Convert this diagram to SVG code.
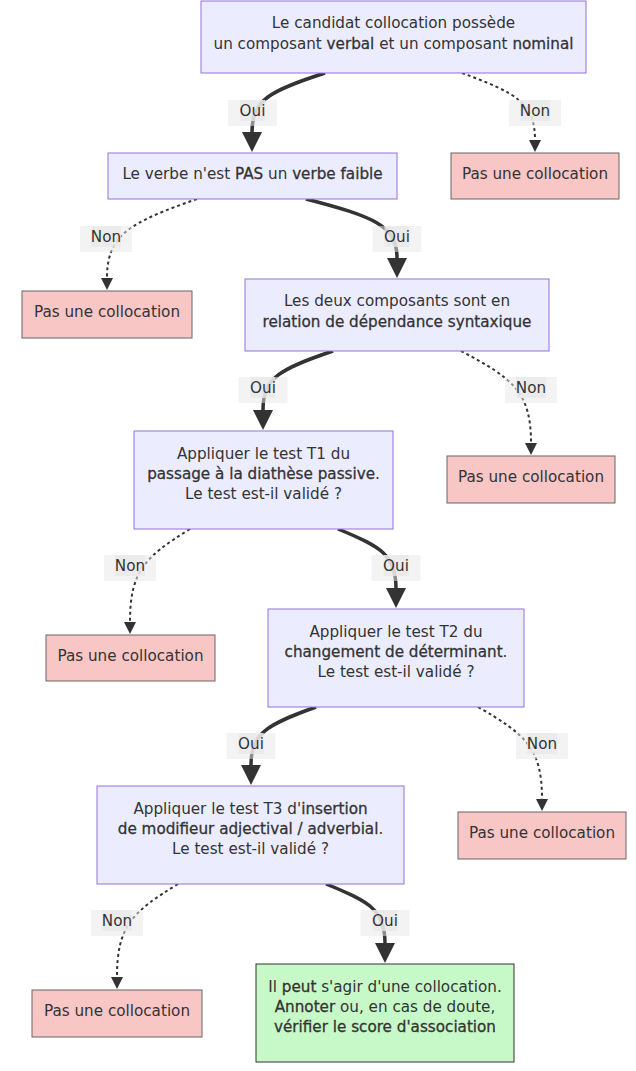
<svg xmlns="http://www.w3.org/2000/svg" width="636" height="1071" viewBox="0 0 636 1071">
<style>
text{font-family:"DejaVu Sans","Liberation Sans",sans-serif;font-size:15.2px;fill:#333;text-anchor:middle}
.b{stroke:#333;stroke-width:0.3px}
.q{fill:#ECECFF;stroke:#9370DB;stroke-width:1}
.n{fill:#F9C6C6;stroke:#666;stroke-width:1}
.y{fill:#C7F8C7;stroke:#333;stroke-width:1}
.oui{fill:none;stroke:#333;stroke-width:3.5}
.non{fill:none;stroke:#333;stroke-width:2;stroke-dasharray:3 3}
.lo{fill:#e8e8e8;opacity:0.5}
.li{fill:#e8e8e8;opacity:0.8}
</style>
<defs>
<marker id="ah" markerUnits="userSpaceOnUse" markerWidth="21" markerHeight="21" refX="0" refY="10" orient="auto"><path d="M0,0 L20,10 L0,20 z" fill="#333"/></marker>
<marker id="as" markerUnits="userSpaceOnUse" markerWidth="13" markerHeight="13" refX="0" refY="6" orient="auto"><path d="M0,0 L12,6 L0,12 z" fill="#333"/></marker>
</defs>
<rect width="636" height="1071" fill="#fff"/>
<g id="connectors">
<path class="oui" marker-end="url(#ah)" d="M325,73 C270.25,90.7 252,99.6 252,132"/>
<path class="non" marker-end="url(#as)" d="M462,73 C516.75,93.1 535,103.2 535,140"/>
<path class="non" marker-end="url(#as)" d="M197,199 C129.5,222.7 107,234.6 107,278"/>
<path class="oui" marker-end="url(#ah)" d="M306,199 C374.25,216.7 397,225.6 397,258"/>
<path class="oui" marker-end="url(#ah)" d="M333,351 C280.5,368.7 263,377.6 263,410"/>
<path class="non" marker-end="url(#as)" d="M461,351 C513.5,378.6 531,392.4 531,443"/>
<path class="non" marker-end="url(#as)" d="M190,529 C145,556.9 130,570.9 130,622"/>
<path class="oui" marker-end="url(#ah)" d="M338,529 C381.5,546.7 396,555.6 396,588"/>
<path class="oui" marker-end="url(#ah)" d="M316,707 C267.25,724.4 251,733.1 251,765"/>
<path class="non" marker-end="url(#as)" d="M478,707 C526,734.6 542,748.4 542,799"/>
<path class="non" marker-end="url(#as)" d="M178,884 C132.25,911.9 117,925.9 117,977"/>
<path class="oui" marker-end="url(#ah)" d="M326,884 C370.25,901.7 385,910.6 385,943"/>
<g id="edge-labels">
<g><rect class="lo" x="228" y="100" width="49" height="26"/><rect class="li" x="240" y="100" width="25" height="21"/><text x="252.5" y="116">Oui</text></g>
<g><rect class="lo" x="509" y="100" width="52" height="26"/><rect class="li" x="520" y="100" width="30" height="21"/><text x="535" y="116">Non</text></g>
<g><rect class="lo" x="80" y="226" width="52" height="26"/><rect class="li" x="91" y="226" width="30" height="21"/><text x="106" y="242">Non</text></g>
<g><rect class="lo" x="372.5" y="226" width="49" height="26"/><rect class="li" x="384.5" y="226" width="25" height="21"/><text x="397" y="242">Oui</text></g>
<g><rect class="lo" x="238.5" y="377" width="49" height="26"/><rect class="li" x="250.5" y="377" width="25" height="21"/><text x="263" y="393">Oui</text></g>
<g><rect class="lo" x="505" y="377" width="52" height="26"/><rect class="li" x="516" y="377" width="30" height="21"/><text x="531" y="393">Non</text></g>
<g><rect class="lo" x="104" y="555" width="52" height="26"/><rect class="li" x="115" y="555" width="30" height="21"/><text x="130" y="571">Non</text></g>
<g><rect class="lo" x="371.5" y="555" width="49" height="26"/><rect class="li" x="383.5" y="555" width="25" height="21"/><text x="396" y="571">Oui</text></g>
<g><rect class="lo" x="226.5" y="733" width="49" height="26"/><rect class="li" x="238.5" y="733" width="25" height="21"/><text x="251" y="749">Oui</text></g>
<g><rect class="lo" x="516" y="733" width="52" height="26"/><rect class="li" x="527" y="733" width="30" height="21"/><text x="542" y="749">Non</text></g>
<g><rect class="lo" x="91" y="910" width="52" height="26"/><rect class="li" x="102" y="910" width="30" height="21"/><text x="117" y="926">Non</text></g>
<g><rect class="lo" x="360.5" y="910" width="49" height="26"/><rect class="li" x="372.5" y="910" width="25" height="21"/><text x="385" y="926">Oui</text></g>
</g>
</g>
<g id="n1"><rect class="q" x="201" y="1" width="385" height="72"/><text x="393.5" y="28">Le candidat collocation possède</text><text x="393.5" y="49">un composant <tspan class="b">verbal</tspan> et un composant <tspan class="b">nominal</tspan></text></g>
<g id="n2"><rect class="q" x="108" y="153" width="289" height="46"/><text x="252.5" y="179">Le verbe n'est <tspan class="b">PAS</tspan> un <tspan class="b">verbe faible</tspan></text></g>
<g id="n3"><rect class="n" x="451" y="153" width="168" height="46"/><text x="535" y="179">Pas une collocation</text></g>
<g id="n4"><rect class="n" x="22" y="291" width="170" height="47"/><text x="107" y="317">Pas une collocation</text></g>
<g id="n5"><rect class="q" x="245" y="279" width="304" height="72"/><text x="397" y="306">Les deux composants sont en</text><text x="397" y="327"><tspan class="b">relation de dépendance syntaxique</tspan></text></g>
<g id="n6"><rect class="n" x="447" y="456" width="168" height="47"/><text x="531" y="482">Pas une collocation</text></g>
<g id="n7"><rect class="q" x="134" y="431" width="259" height="98"/><text x="263.5" y="459">Appliquer le test T1 du</text><text x="263.5" y="479"><tspan class="b">passage à la diathèse passive</tspan>.</text><text x="263.5" y="499">Le test est-il validé ?</text></g>
<g id="n8"><rect class="n" x="46" y="635" width="169" height="46"/><text x="130.5" y="661">Pas une collocation</text></g>
<g id="n9"><rect class="q" x="268" y="609" width="256" height="98"/><text x="396" y="637">Appliquer le test T2 du</text><text x="396" y="657"><tspan class="b">changement de déterminant</tspan>.</text><text x="396" y="677">Le test est-il validé ?</text></g>
<g id="n10"><rect class="q" x="97" y="786" width="307" height="98"/><text x="250.5" y="814">Appliquer le test T3 d'<tspan class="b">insertion</tspan></text><text x="250.5" y="834"><tspan class="b">de modifieur adjectival / adverbial</tspan>.</text><text x="250.5" y="854">Le test est-il validé ?</text></g>
<g id="n11"><rect class="n" x="458" y="812" width="168" height="47"/><text x="542" y="838">Pas une collocation</text></g>
<g id="n12"><rect class="n" x="32" y="990" width="170" height="47"/><text x="117" y="1016">Pas une collocation</text></g>
<g id="n13"><rect class="y" x="256" y="964" width="258" height="98"/><text x="385" y="992">Il <tspan class="b">peut</tspan> s'agir d'une collocation.</text><text x="385" y="1012"><tspan class="b">Annoter</tspan> ou, en cas de doute,</text><text x="385" y="1032"><tspan class="b">vérifier le score d'association</tspan></text></g>
</svg>
